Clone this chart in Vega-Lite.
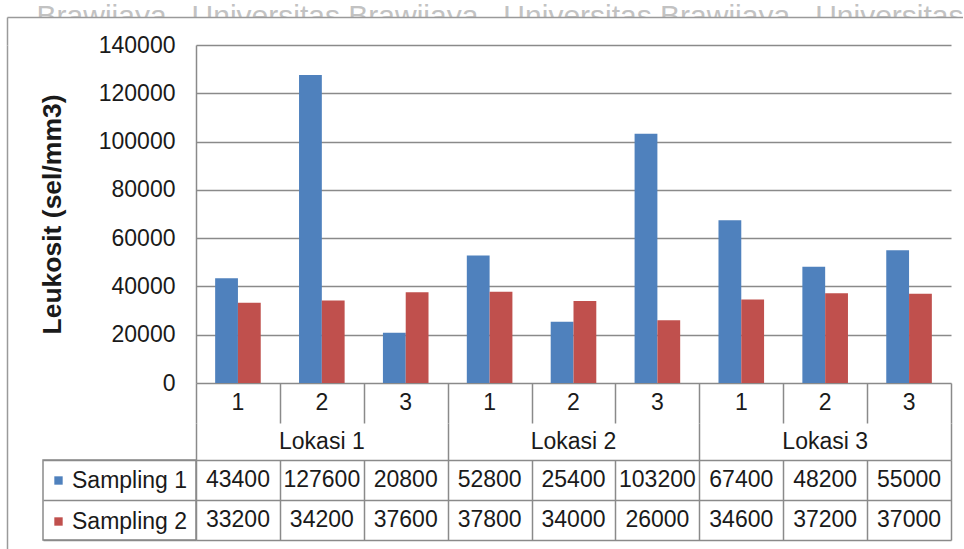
{
  "$schema": "https://vega.github.io/schema/vega-lite/v6.json",
  "background": "white",
  "padding": {"left": 7, "top": 0, "right": 0, "bottom": 0},
  "config": {
    "font": "Liberation Sans",
    "view": {"stroke": null},
    "legend": {"padding": 0}
  },
  "datasets": {
    "leukosit": [
      {"lokasi": "Lokasi 1", "titik": "1", "kategori": "1-1", "series": "Sampling 1", "value": 43400},
      {"lokasi": "Lokasi 1", "titik": "2", "kategori": "1-2", "series": "Sampling 1", "value": 127600},
      {"lokasi": "Lokasi 1", "titik": "3", "kategori": "1-3", "series": "Sampling 1", "value": 20800},
      {"lokasi": "Lokasi 2", "titik": "1", "kategori": "2-1", "series": "Sampling 1", "value": 52800},
      {"lokasi": "Lokasi 2", "titik": "2", "kategori": "2-2", "series": "Sampling 1", "value": 25400},
      {"lokasi": "Lokasi 2", "titik": "3", "kategori": "2-3", "series": "Sampling 1", "value": 103200},
      {"lokasi": "Lokasi 3", "titik": "1", "kategori": "3-1", "series": "Sampling 1", "value": 67400},
      {"lokasi": "Lokasi 3", "titik": "2", "kategori": "3-2", "series": "Sampling 1", "value": 48200},
      {"lokasi": "Lokasi 3", "titik": "3", "kategori": "3-3", "series": "Sampling 1", "value": 55000},
      {"lokasi": "Lokasi 1", "titik": "1", "kategori": "1-1", "series": "Sampling 2", "value": 33200},
      {"lokasi": "Lokasi 1", "titik": "2", "kategori": "1-2", "series": "Sampling 2", "value": 34200},
      {"lokasi": "Lokasi 1", "titik": "3", "kategori": "1-3", "series": "Sampling 2", "value": 37600},
      {"lokasi": "Lokasi 2", "titik": "1", "kategori": "2-1", "series": "Sampling 2", "value": 37800},
      {"lokasi": "Lokasi 2", "titik": "2", "kategori": "2-2", "series": "Sampling 2", "value": 34000},
      {"lokasi": "Lokasi 2", "titik": "3", "kategori": "2-3", "series": "Sampling 2", "value": 26000},
      {"lokasi": "Lokasi 3", "titik": "1", "kategori": "3-1", "series": "Sampling 2", "value": 34600},
      {"lokasi": "Lokasi 3", "titik": "2", "kategori": "3-2", "series": "Sampling 2", "value": 37200},
      {"lokasi": "Lokasi 3", "titik": "3", "kategori": "3-3", "series": "Sampling 2", "value": 37000}
    ]
  },
  "spacing": 0,
  "bounds": "flush",
  "resolve": {"scale": {"x": "independent", "y": "independent"}},
  "vconcat": [
    {
      "width": 956,
      "height": 17,
      "data": {"name": "leukosit"},
      "mark": {"type": "point", "opacity": 0},
      "encoding": {
        "x": {
          "field": "value", "type": "quantitative",
          "axis": {
            "orient": "bottom", "domain": false, "ticks": false, "labels": false, "grid": false,
            "title": "Brawijaya \u00a0 Universitas Brawijaya \u00a0 Universitas Brawijaya \u00a0 Universitas",
            "titleFontSize": 30, "titleFontWeight": "normal", "titleColor": "#c2c2c2",
            "titleAnchor": "end", "titleBaseline": "top", "titlePadding": -16, "titleLimit": 2000
          }
        }
      }
    },
    {
      "width": 956,
      "height": 28,
      "view": {"fill": "white"},
      "data": {"name": "leukosit"},
      "mark": {"type": "point", "opacity": 0},
      "encoding": {
        "x": {
          "field": "value", "type": "quantitative",
          "axis": {"orient": "top", "domain": true, "domainColor": "#9a9a9a", "domainWidth": 1.5, "ticks": false, "labels": false, "grid": false, "title": null}
        },
        "y": {
          "field": "value", "type": "quantitative",
          "axis": {"orient": "left", "domain": true, "domainColor": "#9a9a9a", "domainWidth": 1.5, "ticks": false, "labels": false, "grid": false, "title": null}
        }
      }
    },
    {
      "spacing": 0,
      "bounds": "flush",
      "resolve": {"scale": {"x": "independent", "y": "independent"}},
      "hconcat": [
        {
          "width": 36,
          "height": 504,
          "data": {"name": "leukosit"},
          "mark": {"type": "point", "opacity": 0},
          "encoding": {
            "y": {
              "field": "value", "type": "quantitative",
              "axis": {"orient": "left", "domain": true, "domainColor": "#9a9a9a", "domainWidth": 1.5, "ticks": false, "labels": false, "grid": false, "title": null}
            }
          }
        },
        {
          "columns": 2,
          "spacing": 0,
          "bounds": "flush",
          "align": "each",
          "resolve": {
            "scale": {"x": "independent", "y": "independent", "color": "independent"},
            "legend": {"color": "independent"}
          },
          "concat": [
            {
              "width": 153, "height": 338,
              "data": {"values": []},
              "mark": {"type": "point", "opacity": 0}
            },
            {
              "width": 755, "height": 338,
              "data": {"name": "leukosit"},
              "mark": {"type": "bar"},
              "encoding": {
                "x": {
                  "field": "kategori", "type": "nominal", "sort": null,
                  "scale": {"paddingInner": 0, "paddingOuter": 0},
                  "axis": null
                },
                "xOffset": {
                  "field": "series", "type": "nominal",
                  "scale": {"paddingInner": 0, "paddingOuter": 0.84}
                },
                "y": {
                  "field": "value", "type": "quantitative",
                  "scale": {"domain": [0, 140000], "nice": false},
                  "axis": {
                    "values": [0, 20000, 40000, 60000, 80000, 100000, 120000, 140000],
                    "format": "d",
                    "labelFontSize": 23, "labelColor": "#1a1a1a", "labelPadding": 21,
                    "ticks": false,
                    "domain": true, "domainColor": "#8a8a8a", "domainWidth": 1.5,
                    "grid": true, "gridColor": "#8a8a8a", "gridWidth": 1.5,
                    "title": "Leukosit (sel/mm3)",
                    "titleFontSize": 26.5, "titleFontWeight": "bold", "titleColor": "#1a1a1a",
                    "titlePadding": 32
                  }
                },
                "color": {
                  "field": "series", "type": "nominal",
                  "scale": {"domain": ["Sampling 1", "Sampling 2"], "range": ["#4F81BD", "#C0504D"]},
                  "legend": null
                }
              }
            },
            {
              "width": 153, "height": 40,
              "data": {"values": []},
              "mark": {"type": "point", "opacity": 0}
            },
            {
              "width": 755, "height": 40,
              "data": {"name": "leukosit"},
              "transform": [{"filter": "datum.series === 'Sampling 1'"}],
              "mark": {"type": "text", "fontSize": 23, "color": "#1a1a1a"},
              "encoding": {
                "x": {
                  "field": "kategori", "type": "nominal", "sort": null,
                  "scale": {"paddingInner": 0, "paddingOuter": 0},
                  "axis": {"tickBand": "extent", "grid": true, "gridColor": "#8a8a8a", "gridWidth": 1.5, "labels": false, "ticks": false, "domain": false, "title": null}
                },
                "text": {"field": "titik"}
              }
            },
            {
              "width": 153, "height": 37,
              "data": {"values": []},
              "mark": {"type": "point", "opacity": 0}
            },
            {
              "width": 755, "height": 37,
              "data": {"name": "leukosit"},
              "transform": [{"aggregate": [], "groupby": ["lokasi"]}],
              "mark": {"type": "text", "fontSize": 23, "color": "#1a1a1a"},
              "encoding": {
                "x": {
                  "field": "lokasi", "type": "nominal", "sort": null,
                  "scale": {"paddingInner": 0, "paddingOuter": 0},
                  "axis": {"tickBand": "extent", "grid": true, "gridColor": "#8a8a8a", "gridWidth": 1.5, "labels": false, "ticks": false, "domain": false, "title": null}
                },
                "text": {"field": "lokasi"}
              }
            },
            {
              "width": 153, "height": 80,
              "view": {"stroke": "#8a8a8a", "strokeWidth": 1.5},
              "data": {"name": "leukosit"},
              "mark": {"type": "square", "opacity": 0},
              "encoding": {
                "y": {
                  "field": "series", "type": "nominal",
                  "scale": {"paddingInner": 0, "paddingOuter": 0},
                  "axis": {"tickBand": "extent", "grid": true, "gridColor": "#8a8a8a", "gridWidth": 1.5, "labels": false, "ticks": false, "domain": false, "title": null}
                },
                "color": {
                  "field": "series", "type": "nominal",
                  "scale": {"domain": ["Sampling 1", "Sampling 2"], "range": ["#4F81BD", "#C0504D"]},
                  "legend": {
                    "orient": "top-left", "offset": 8.5, "direction": "vertical", "title": null,
                    "symbolType": "square", "symbolSize": 70, "symbolOpacity": 1, "symbolStrokeWidth": 0,
                    "symbolOffset": -5,
                    "labelFontSize": 23, "labelColor": "#1a1a1a", "labelOffset": 2, "rowPadding": 17, "padding": 0
                  }
                }
              }
            },
            {
              "width": 755, "height": 80,
              "data": {"name": "leukosit"},
              "mark": {"type": "text", "fontSize": 23, "color": "#1a1a1a"},
              "encoding": {
                "x": {
                  "field": "kategori", "type": "nominal", "sort": null,
                  "scale": {"paddingInner": 0, "paddingOuter": 0},
                  "axis": {"tickBand": "extent", "grid": true, "gridColor": "#8a8a8a", "gridWidth": 1.5, "labels": false, "ticks": false, "domain": false, "title": null}
                },
                "y": {
                  "field": "series", "type": "nominal",
                  "scale": {"paddingInner": 0, "paddingOuter": 0},
                  "axis": {"tickBand": "extent", "grid": true, "gridColor": "#8a8a8a", "gridWidth": 1.5, "labels": false, "ticks": false, "domain": false, "title": null}
                },
                "text": {"field": "value", "type": "quantitative", "format": "d"}
              }
            }
          ]
        }
      ]
    }
  ]
}
